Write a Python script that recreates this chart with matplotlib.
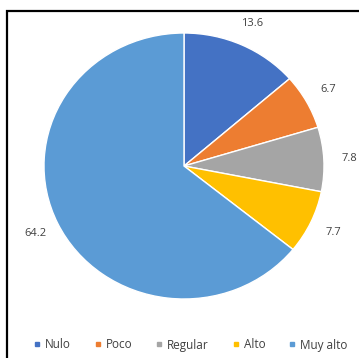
import matplotlib
matplotlib.use("Agg")
import matplotlib.pyplot as plt
from matplotlib.patches import Rectangle
from matplotlib.lines import Line2D
import numpy as np

categories = ["Nulo", "Poco", "Regular", "Alto", "Muy alto"]
values = [13.6, 6.7, 7.8, 7.7, 64.2]
colors = ["#4472C4", "#ED7D31", "#A5A5A5", "#FFC000", "#5B9BD5"]
value_labels = ["13.6", "6.7", "7.8", "7.7", "64.2"]

plt.rcParams["font.family"] = ["Open Sans", "DejaVu Sans"]

fig = plt.figure(figsize=(3.59, 3.58), dpi=100)
fig.patch.set_facecolor("white")

# outer frame (left and top edges visible)
fig.patches.append(Rectangle((7 / 359, -0.1), 1.2, 1 - 11 / 358 + 0.1,
                             transform=fig.transFigure, fill=False,
                             edgecolor="black", linewidth=1.6))

cx, cy = 184, 358 - 166
rx, ry = 140, 133
ax = fig.add_axes([(cx - rx) / 359, (cy - ry) / 358, 2 * rx / 359, 2 * ry / 358])

wedges, texts = ax.pie(values, colors=colors, startangle=90, counterclock=False,
                       labels=value_labels, labeldistance=1.18,
                       wedgeprops=dict(edgecolor="white", linewidth=1.0),
                       textprops=dict(fontsize=8, color="#404040"))
ax.set_aspect("auto")
ax.set_xlim(-1, 1)
ax.set_ylim(-1, 1)
for t in texts:
    t.set_ha("center")
    t.set_va("center")

handles = [Line2D([0], [0], marker="s", linestyle="none", markersize=3.5,
                  markerfacecolor=c, markeredgecolor=c) for c in colors]
fig.legend(handles, categories, loc="center", bbox_to_anchor=(0.53, 1 - 345 / 358),
           ncol=5, frameon=False, fontsize=8.5, handlelength=0.7,
           handletextpad=0.35, columnspacing=1.9, labelcolor="#404040")

fig.savefig("out.png", dpi=100)
